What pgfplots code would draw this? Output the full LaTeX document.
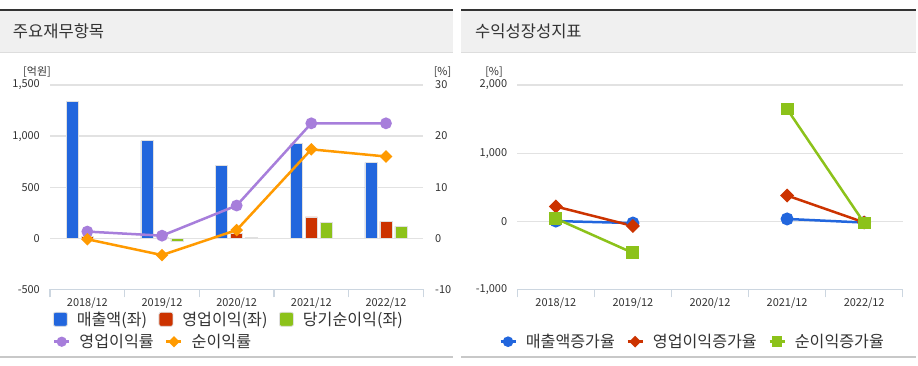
\documentclass[border=0pt]{standalone}
\usepackage{fontspec}
\setmainfont{Noto Sans CJK KR}
\usepackage{pgfplots}
\pgfplotsset{compat=1.18}
\definecolor{cblue}{HTML}{2266DD}
\definecolor{cred}{HTML}{CC3300}
\definecolor{cgreen}{HTML}{8CC21A}
\definecolor{cpurple}{HTML}{A77EDB}
\definecolor{corange}{HTML}{FF9A00}
\definecolor{gridc}{HTML}{E2E2E2}
\definecolor{axisc}{HTML}{CCD6E0}
\definecolor{txt}{HTML}{333333}
\definecolor{hdr}{HTML}{F0F0F0}
\definecolor{dark}{HTML}{333333}
\definecolor{lgray}{HTML}{DDDDDD}
\definecolor{bgray}{HTML}{C8C8C8}
\newcommand\tickfont{\fontsize{11}{13}\selectfont}
\newcommand\legfont{\fontsize{16.2}{19}\selectfont}
\pgfplotsset{
  base/.style={
    scale only axis, height=204.3bp,
    xmin=-0.5, xmax=4.5,
    /pgf/number format/1000 sep={,},
    /pgf/number format/assume math mode=true,
    major tick length=0pt,
    tick label style={font=\tickfont, text=txt},
  },
  xstyle/.style={
    axis x line*=bottom, x axis line style={-, draw=axisc, line width=1.3bp},
    xtick={0,1,2,3,4},
    xticklabels={2018/12,2019/12,2020/12,2021/12,2022/12},
    minor xtick={-0.5,0.5,1.5,2.5,3.5,4.5},
    minor tick length=8bp, xtick align=outside,
    minor tick style={draw=axisc, line width=1.3bp},
    xticklabel style={inner sep=0pt, anchor=center, yshift=-13.4bp},
    axis y line*=left, y axis line style={draw=none},
    yticklabel style={inner sep=0pt, anchor=east, xshift=-10bp},
    ymajorgrids, major grid style={draw=gridc, line width=1.2bp},
  },
  barleg/.style={legend image code/.code={\path[fill=##1, rounded corners=2bp] (0bp,-7bp) rectangle (14bp,7bp);}},
  lineleg/.style={legend image code/.code={\draw[mark repeat=2,mark phase=2,##1, mark size=#1] plot coordinates {(0bp,0bp)(7.5bp,0bp)(15bp,0bp)};}},
  legstyle/.style={legend style={draw=none, fill=none, inner sep=0pt, outer sep=0pt, anchor=west,
    legend cell align=left, font=\legfont, text=txt,
    nodes={inner sep=0pt},
    /tikz/every odd column/.append style={column sep=9bp},
    /tikz/every even column/.append style={column sep=11.5bp}}},
}
\begin{document}
\begin{tikzpicture}[x=1bp,y=1bp]
\fill[white] (0,0) rectangle (918,365);
% headers
\fill[hdr] (0,313.5) rectangle (452.7,353.5);
\fill[dark] (0,353.5) rectangle (452.7,355.5);
\fill[lgray] (0,312.5) rectangle (452.7,313.5);
\fill[hdr] (461,313.5) rectangle (916,353.5);
\fill[dark] (461,353.5) rectangle (916,355.5);
\fill[lgray] (461,312.5) rectangle (916,313.5);
\node[anchor=west, inner sep=0pt, font=\fontsize{16.6}{19}\selectfont, text=txt] at (12.7,333.5) {주요재무항목};
\node[anchor=west, inner sep=0pt, font=\fontsize{16.6}{19}\selectfont, text=txt] at (475,333.5) {수익성장성지표};
\fill[bgray] (0,7) rectangle (452.7,9);
\fill[bgray] (461,7) rectangle (916,9);
% unit labels
\node[inner sep=0pt, font=\tickfont, text=txt] at (37,293) {[억원]};
\node[inner sep=0pt, font=\tickfont, text=txt] at (442.5,293) {[\%]};
\node[inner sep=0pt, font=\tickfont, text=txt] at (494,293) {[\%]};

% left: bars
\begin{axis}[base, xstyle, at={(50bp,75.7bp)}, anchor=south west, width=373.3bp,
  ymin=-500, ymax=1500, ytick={-500,0,500,1000,1500},
  legstyle, legend columns=3, legend style={at={(0.008,-0.1468)}}]
\addplot[ybar, bar width=12bp, bar shift=-15bp, fill=cblue, draw=black!12, line width=0.8bp, barleg] coordinates {(0,1338)(1,954)(2,713)(3,927)(4,740)};
\addlegendentry{매출액(좌)}
\addplot[ybar, bar width=12bp, bar shift=0bp, fill=cred, draw=black!12, line width=0.8bp, barleg] coordinates {(0,17)(1,5)(2,46)(3,208)(4,166)};
\addlegendentry{영업이익(좌)}
\addplot[ybar, bar width=12bp, bar shift=15bp, fill=cgreen, draw=black!12, line width=0.8bp, barleg] coordinates {(0,-3)(1,-32)(2,11)(3,158)(4,117)};
\addlegendentry{당기순이익(좌)}
\end{axis}

% left: lines on right axis
\begin{axis}[base, at={(50bp,75.7bp)}, anchor=south west, width=373.3bp,
  ymin=-10, ymax=30, ytick={-10,0,10,20,30},
  hide x axis, axis y line*=right, y axis line style={draw=none},
  yticklabel style={inner sep=0pt, anchor=west, xshift=11.7bp},
  legstyle, legend columns=2, legend style={at={(0.008,-0.2565)}}]
\addplot[color=cpurple, line width=2.5bp, mark=*, mark size=4.6bp, lineleg=3.8bp] coordinates {(0,1.3)(1,0.5)(2,6.4)(3,22.5)(4,22.5)};
\addlegendentry{영업이익률}
\addplot[color=corange, line width=2.5bp, mark=square*, mark size=3.2bp, mark options={rotate=45}, lineleg=2.7bp] coordinates {(0,-0.2)(1,-3.3)(2,1.6)(3,17.4)(4,16.0)};
\addlegendentry{순이익률}
\end{axis}

% right chart
\begin{axis}[base, xstyle, at={(517.3bp,75.7bp)}, anchor=south west, width=385.4bp,
  ymin=-1000, ymax=2000, ytick={-1000,0,1000,2000}, unbounded coords=jump,
  legstyle, legend columns=3, legend style={at={(-0.0467,-0.2565)}}]
\addplot[color=cblue, line width=2.5bp, mark=*, mark size=5.2bp, lineleg=4bp] coordinates {(0,2)(1,-27)(2,nan)(3,33)(4,-20)};
\addlegendentry{매출액증가율}
\addplot[color=cred, line width=2.5bp, mark=square*, mark size=3.7bp, mark options={rotate=45}, lineleg=2.9bp] coordinates {(0,216)(1,-70)(2,nan)(3,377)(4,-18)};
\addlegendentry{영업이익증가율}
\addplot[color=cgreen, line width=2.5bp, mark=square*, mark size=5.2bp, lineleg=4bp] coordinates {(0,39)(1,-466)(2,nan)(3,1647)(4,-26)};
\addlegendentry{순이익증가율}
\end{axis}
\end{tikzpicture}
\end{document}
